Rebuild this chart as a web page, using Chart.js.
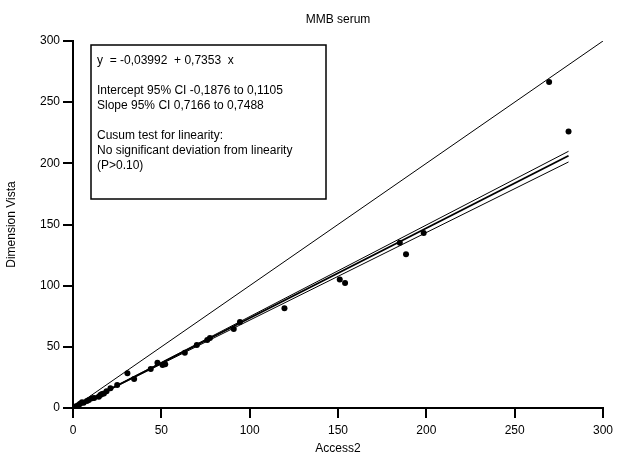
<!DOCTYPE html>
<html>
<head>
<meta charset="utf-8">
<script src="https://cdn.jsdelivr.net/npm/chart.js@4/dist/chart.umd.min.js"></script>
<style>
  body { margin: 0; background: #fff; }
  #chart { display: block; }
</style>
</head>
<body>
<canvas id="chart" width="618" height="462"></canvas>
<script>
// measured samples (Access2 vs Dimension Vista)
var access2 = [1, 2, 3.2, 4, 5.1, 6, 7.9, 9, 10.8, 12, 14.6, 15.5, 16.4, 17.5, 19, 21.2, 25,
  30.8, 34.6, 44, 47.8, 50.7, 52.2, 63.3, 70.1, 76, 77.5, 91, 94.5, 119.7,
  151, 154, 185, 188.5, 198.5, 269.5, 280.5];
var vista = [0.8, 1.6, 2.5, 3.4, 4.7, 4.3, 5.7, 6.6, 7.9, 8.2, 9.2, 10.6, 11.4, 11.9, 13.6, 16.1, 18.8,
  28.4, 23.7, 31.9, 37, 35.2, 35.7, 45.2, 51.5, 55.6, 57.2, 64.6, 70.3, 81.5,
  105, 102.2, 135, 125.6, 143, 266.4, 226];

// regression results shown in the box
var intercept = -0.03992, slope = 0.7353;
var ciIntercept = [-0.1876, 0.1105];
var ciSlope = [0.7488, 0.7166];
var fitRange = [0, 280.5];
var identityRange = [0, 300];
var axisTicks = [0, 50, 100, 150, 200, 250, 300];

var boxLines = [
  "y  = -0,03992  + 0,7353  x",
  "",
  "Intercept 95% CI -0,1876 to 0,1105",
  "Slope 95% CI 0,7166 to 0,7488",
  "",
  "Cusum test for linearity:",
  "No significant deviation from linearity",
  "(P>0.10)"
];

Chart.defaults.font.family = "'Liberation Sans', Arial, sans-serif";
Chart.defaults.font.size = 12;
Chart.defaults.color = "#000";

function linePts(a, b) {
  return fitRange.map(function (x) { return { x: x, y: a + b * x }; });
}

var points = access2.map(function (x, i) { return { x: x, y: vista[i] }; });

var infoBox = {
  id: 'infoBox',
  afterDraw: function (chart) {
    var ctx = chart.ctx, area = chart.chartArea;
    var left = area.left + 18, top = area.top + 4;
    ctx.save();
    ctx.strokeStyle = "#000";
    ctx.lineWidth = 1.5;
    ctx.strokeRect(left, top, 235, 154);
    ctx.fillStyle = "#000";
    ctx.font = "12px 'Liberation Sans', Arial, sans-serif";
    ctx.textBaseline = "middle";
    for (var i = 0; i < boxLines.length; i++) {
      ctx.fillText(boxLines[i], left + 6, top + 16 + i * 14.9);
    }
    ctx.restore();
  }
};

var ctx = document.getElementById("chart").getContext('2d');
var chart = new Chart(ctx, {
  type: 'scatter',
  data: {
    datasets: [{
      data: points,
      backgroundColor: "#000",
      borderColor: "#000",
      pointRadius: 3,
      borderWidth: 0
    }, {
      data: identityRange.map(function (v) { return { x: v, y: v }; }),
      showLine: true, pointRadius: 0, borderColor: "#000", borderWidth: 1
    }, {
      data: linePts(intercept, slope),
      showLine: true, pointRadius: 0, borderColor: "#000", borderWidth: 1.8
    }, {
      data: linePts(ciIntercept[0], ciSlope[0]),
      showLine: true, pointRadius: 0, borderColor: "#000", borderWidth: 1
    }, {
      data: linePts(ciIntercept[1], ciSlope[1]),
      showLine: true, pointRadius: 0, borderColor: "#000", borderWidth: 1
    }]
  },
  options: {
    responsive: false,
    animation: false,
    layout: { padding: { left: 0, right: 15, top: 0, bottom: 0 } },
    plugins: {
      legend: { display: false },
      tooltip: { enabled: false },
      title: {
        display: true,
        text: 'MMB serum',
        fullSize: false,
        font: { size: 12, weight: 'normal' },
        padding: { top: 12, bottom: 14.6 }
      }
    },
    scales: {
      x: {
        type: 'linear',
        min: 0, max: 300,
        afterBuildTicks: function (s) { s.ticks = axisTicks.map(function (v) { return { value: v }; }); },
        afterFit: function (s) { s.height = 54; },
        grid: { display: true, drawOnChartArea: false, drawTicks: true, tickLength: 10, color: "#000", lineWidth: 2 },
        border: { display: true, color: "#000", width: 2 },
        ticks: { padding: 5, maxRotation: 0 },
        title: { display: true, text: 'Access2', padding: { top: 2, bottom: 6 } }
      },
      y: {
        type: 'linear',
        min: 0, max: 300,
        afterBuildTicks: function (s) { s.ticks = axisTicks.map(function (v) { return { value: v }; }); },
        afterFit: function (s) { s.width = 73; },
        grid: { display: true, drawOnChartArea: false, drawTicks: true, tickLength: 10, color: "#000", lineWidth: 2 },
        border: { display: true, color: "#000", width: 2 },
        ticks: { padding: 3 },
        title: { display: true, text: 'Dimension Vista', padding: { top: 4, bottom: 4 } }
      }
    }
  },
  plugins: [infoBox]
});
</script>
</body>
</html>
